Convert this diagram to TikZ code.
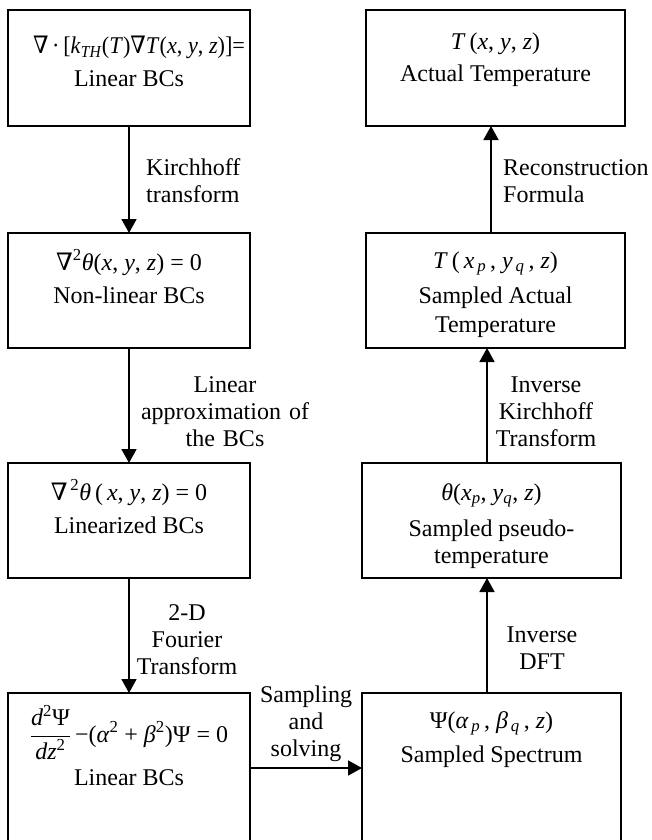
\documentclass[tikz,border=0pt]{standalone}
\usepackage{graphicx}
\usepackage{fontspec}
\setmainfont{Liberation Serif}
\newfontfamily\symf{DejaVu Serif}
\usetikzlibrary{arrows.meta}

\newcommand\ii[1]{\textit{#1}}
\newcommand\nab{{\symf ∇}}
% width, height, first-baseline offset, baselineskip, lines
\newcommand\btext[5]{\parbox[c][#2][t]{#1}{\centering\lineskiplimit=-50pt\relax\baselineskip=#4\relax\rule{0pt}{#3}#5}}
\newcommand\lbltext[1]{\lineskiplimit=-50pt\relax\rule{0pt}{20pt}#1}

\begin{document}
\begin{tikzpicture}[x=1pt,y=-1pt,
  box/.style={draw, line width=1.8pt, inner sep=0pt, outer sep=0pt, font=\fontsize{24}{27}\selectfont},
  arr/.style={line width=1.8pt, -{Triangle[length=14pt,width=15pt]}},
  lblc/.style={inner sep=0pt, font=\fontsize{24}{27}\selectfont, text width=200pt, align=center, anchor=north},
  lbll/.style={inner sep=0pt, font=\fontsize{24}{27}\selectfont, text width=200pt, align=left, anchor=north west},
]
\useasboundingbox (0,0) rectangle (651,840);

% left column
\node[box] (L1) at (129,68) {\btext{242pt}{116pt}{44pt}{33pt}{\makebox[242pt][r]{\resizebox{212pt}{\height}{\nab\,·\,[\ii{k}\textsubscript{\ii{TH}}(\ii{T})\nab\ii{T}(\ii{x}, \ii{y}, \ii{z})]=}\hspace{5pt}}\\Linear BCs}};
\node[box] (L2) at (129,290.5) {\btext{242pt}{115pt}{37pt}{33pt}{\nab\textsuperscript{2}\ii{θ}(\ii{x}, \ii{y}, \ii{z}) = 0\\Non-linear BCs}};
\node[box] (L3) at (129,520.5) {\btext{242pt}{115pt}{37pt}{33pt}{\nab\textsuperscript{\,2}\ii{θ}\,(\,\ii{x}, \ii{y}, \ii{z}) = 0\\Linearized BCs}};
\node[box] (L4) at (129,768) {\btext{242pt}{150pt}{49pt}{43pt}{$\displaystyle\frac{\mbox{\ii{d}\textsuperscript{2}Ψ}}{\mbox{\ii{dz}\textsuperscript{2}}}$\,−(\ii{α}\textsuperscript{2} + \ii{β}\textsuperscript{2})Ψ = 0\\Linear BCs}};

% right column
\node[box] (R1) at (495.5,68) {\btext{259pt}{116pt}{40pt}{32pt}{\ii{T}\,(\ii{x}, \ii{y}, \ii{z})\\Actual Temperature}};
\node[box] (R2) at (495.5,290.5) {\btext{259pt}{115pt}{35pt}{29pt}{\ii{T}\,(\,\ii{x}\textsubscript{\,\ii{p}}\,, \ii{y}\textsubscript{\,\ii{q}}\,, \ii{z})\\[6pt]Sampled Actual\\Temperature}};
\node[box] (R3) at (491.5,520.5) {\btext{259pt}{115pt}{37pt}{27pt}{\ii{θ}(\ii{x}\textsubscript{\ii{p}}, \ii{y}\textsubscript{\ii{q}}, \ii{z})\\[9pt]Sampled pseudo-\\temperature}};
\node[box] (R4) at (491.5,768) {\btext{259pt}{150pt}{35pt}{34pt}{Ψ(\ii{α}\textsubscript{\,\ii{p}}\,, \ii{β}\textsubscript{\,\ii{q}}\,, \ii{z})\\Sampled Spectrum}};

% connectors
\draw[arr] (L1.south) -- (L2.north);
\draw[arr] (L2.south) -- (L3.north);
\draw[arr] (L3.south) -- (L4.north);
\draw[arr] (L4.east) -- (R4.west);
\draw[arr] ([xshift=-4.5pt]R4.north) -- ([xshift=-4.5pt]R4.north |- R3.south);
\draw[arr] ([xshift=-4.5pt]R3.north) -- ([xshift=-4.5pt]R3.north |- R2.south);
\draw[arr] ([xshift=-4.5pt]R2.north) -- ([xshift=-4.5pt]R2.north |- R1.south);

% connector labels
\node[lbll] (k1) at (146,155) {\lbltext{Kirchhoff\\transform}};
\node[lblc] (k2) at (225,372) {\lbltext{Linear\\approximation of\\the BCs}};
\node[lblc] (k3) at (187,600) {\lbltext{2-D\\Fourier\\Transform}};
\node[lblc] (k4) at (306,682) {\lbltext{Sampling\\and\\solving}};
\node[lbll] (k5) at (503,155) {\lbltext{Reconstruction\\Formula}};
\node[lblc] (k6) at (546,372) {\lbltext{Inverse\\Kirchhoff\\Transform}};
\node[lblc] (k7) at (542,622) {\lbltext{Inverse\\DFT}};
\end{tikzpicture}
\end{document}
